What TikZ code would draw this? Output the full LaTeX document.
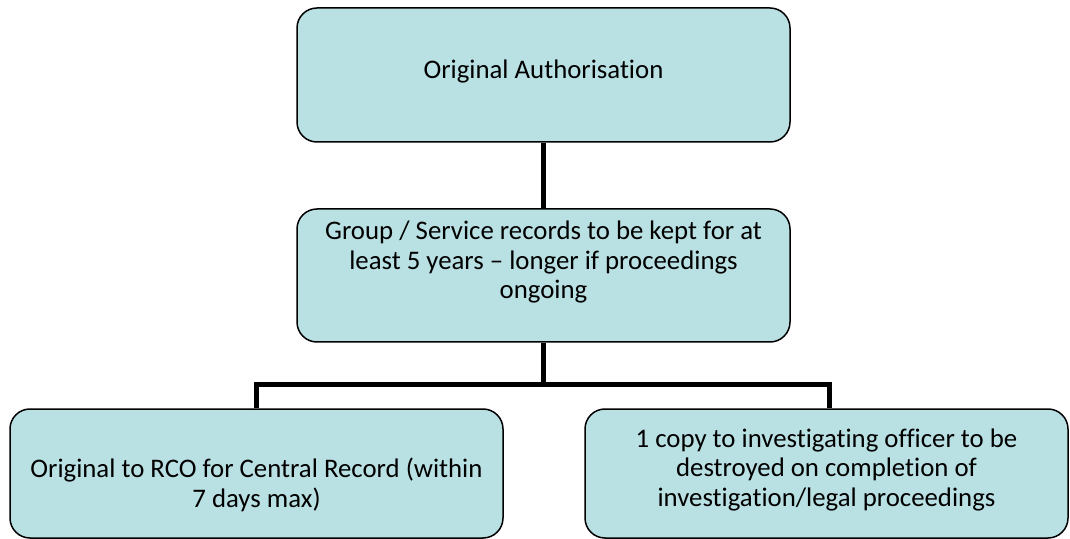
\documentclass[tikz,border=0pt]{standalone}
\usepackage{fontspec}
\setmainfont{Carlito}[Ligatures=NoCommon]
\definecolor{boxfill}{HTML}{B9E0E3}
\begin{document}
\begin{tikzpicture}[x=0.5pt,y=-0.5pt]
		\tikzset{box/.style = {shape=rectangle, draw, rounded corners=10pt, fill=boxfill, line width=0.75pt, inner sep=0pt},
			txt/.style = {align=center, font=\fontsize{13.4pt}{14.75pt}\selectfont, inner sep=0pt},
			link/.style = {line width=2.5pt}}
		\useasboundingbox (0,0) rectangle (1070,539);

		\node[box, minimum width=246.5pt, minimum height=67pt] (auth) at (543.5,75) {};
		\node[box, minimum width=246.5pt, minimum height=66.5pt] (mid) at (543.5,275.5) {};
		\node[box, minimum width=246.5pt, minimum height=64.5pt] (left) at (256.5,473.5) {};
		\node[box, minimum width=241.5pt, minimum height=64.5pt] (right) at (826.5,473.5) {};

		\node[txt] (auth_t) at (543.5,72) {Original Authorisation};
		\node[txt] (mid_t) at (543.5,262.5) {Group / Service records to be kept for at\\least 5 years -- longer if proceedings\\ongoing};
		\node[txt] (left_t) at (256.5,485) {Original to RCO for Central Record (within\\7 days max)};
		\node[txt] (right_t) at (826.5,469.5) {1 copy to investigating officer to be\\destroyed on completion of\\investigation/legal proceedings};

		\coordinate (split) at (543.5,385);



		\draw[link] (auth.south)--(mid.north);
		\draw[link] (mid.south)--(split);
		\draw[link] (left.north) |- (split) -| ([xshift=1.5pt]right.north);

	\end{tikzpicture}
\end{document}
